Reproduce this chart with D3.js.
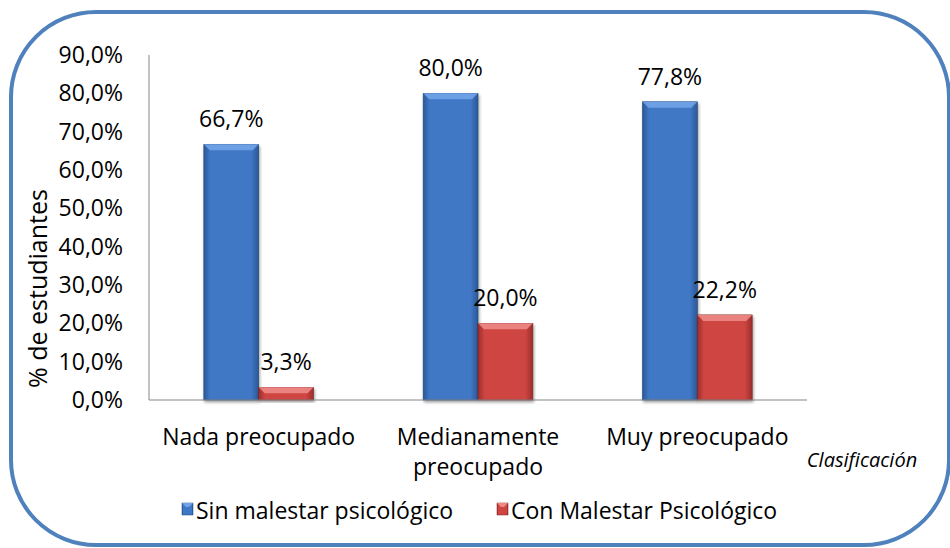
<!DOCTYPE html>
<html>
<head>
<meta charset="utf-8">
<script src="https://cdn.jsdelivr.net/npm/d3@7"></script>
<style>
  body { margin: 0; background: #fff; }
  text { font-family: "Open Sans", "Noto Sans", sans-serif; fill: #000; }
</style>
</head>
<body>
<svg id="chart" width="950" height="548"></svg>
<script>
// categories and series
let categories = ["Nada preocupado", "Medianamente preocupado", "Muy preocupado"];
let catLines = [["Nada preocupado"], ["Medianamente", "preocupado"], ["Muy preocupado"]];
let seriesNames = ["Sin malestar psicológico", "Con Malestar Psicológico"];
let sinMalestar = [66.7, 80.0, 77.8];
let conMalestar = [3.3, 20.0, 22.2];
let yTicks = [0, 10, 20, 30, 40, 50, 60, 70, 80, 90];

let svg = d3.select("#chart");

// rounded frame
svg.append("rect")
  .attr("x", 11).attr("y", 12)
  .attr("width", 938).attr("height", 533)
  .attr("rx", 85).attr("ry", 85)
  .attr("fill", "#fff")
  .attr("stroke", "#4f81bd")
  .attr("stroke-width", 4);

let plot = { left: 149, right: 807, top: 55, bottom: 400 };

let x0 = d3.scaleBand().domain(categories).range([plot.left, plot.right]).paddingInner(0.5).paddingOuter(0.25);
let x1 = d3.scaleBand().domain(seriesNames).range([0, x0.bandwidth()]);
let y = d3.scaleLinear().domain([0, 90]).range([plot.bottom, plot.top]);

let fmt = v => d3.format(".1f")(v).replace(".", ",") + "%";

// gradients
let defs = svg.append("defs");
let palettes = [
  { id: "gBlue", edge: "#2b5897", mid: "#3f78c6", top: "#72a3e8", dark: "#1f4777" },
  { id: "gRed", edge: "#9a2f2c", mid: "#cf4542", top: "#ec8a87", dark: "#7a2220" }
];
palettes.forEach(p => {
  let g = defs.append("linearGradient").attr("id", p.id).attr("x1", 0).attr("x2", 1).attr("y1", 0).attr("y2", 0);
  g.append("stop").attr("offset", "0%").attr("stop-color", p.edge);
  g.append("stop").attr("offset", "12%").attr("stop-color", p.mid);
  g.append("stop").attr("offset", "86%").attr("stop-color", p.mid);
  g.append("stop").attr("offset", "100%").attr("stop-color", p.edge);
});
let shadow = defs.append("filter").attr("id", "shadow").attr("x", "-10%").attr("y", "-10%").attr("width", "130%").attr("height", "130%");
shadow.append("feGaussianBlur").attr("in", "SourceAlpha").attr("stdDeviation", 1.5);
shadow.append("feOffset").attr("dx", 1).attr("dy", 2).attr("result", "b");
shadow.append("feComponentTransfer").append("feFuncA").attr("type", "linear").attr("slope", 0.4);
let merge = shadow.append("feMerge");
merge.append("feMergeNode");
merge.append("feMergeNode").attr("in", "SourceGraphic");

// axes lines
svg.append("line")
  .attr("x1", plot.left).attr("x2", plot.left)
  .attr("y1", plot.top).attr("y2", plot.bottom)
  .attr("stroke", "#868686").attr("stroke-width", 1);

let yAxis = svg.append("g")
  .attr("transform", `translate(${plot.left},0)`)
  .call(d3.axisLeft(y).tickValues(yTicks).tickSize(0).tickPadding(26).tickFormat(fmt));
yAxis.select(".domain").remove();
yAxis.selectAll("text").style("font-size", "23px").style("font-family", "\"Open Sans\", sans-serif").attr("fill", "#000");

// bars
let data = [sinMalestar, conMalestar];
let groups = svg.append("g").selectAll("g")
  .data(categories)
  .join("g")
  .attr("transform", d => `translate(${x0(d)},0)`);

groups.each(function(cat, ci) {
  let g = d3.select(this);
  seriesNames.forEach((s, si) => {
    let v = data[si][ci];
    let bx = x1(s), bw = x1.bandwidth(), by = y(v), bh = y(0) - y(v);
    let p = palettes[si];
    let bar = g.append("g").attr("filter", "url(#shadow)");
    bar.append("rect")
      .attr("x", bx).attr("y", by).attr("width", bw).attr("height", bh)
      .attr("fill", `url(#${p.id})`)
      .attr("stroke", p.dark).attr("stroke-width", 0.6);
    let bev = Math.min(6, bh / 2);
    bar.append("path")
      .attr("d", `M${bx},${by}L${bx + bw},${by}L${bx + bw - bev},${by + bev}L${bx + bev},${by + bev}Z`)
      .attr("fill", p.top).attr("opacity", 0.9);
    g.append("text")
      .attr("x", bx + bw / 2)
      .attr("y", by - 17)
      .attr("text-anchor", "middle")
      .style("font-size", "23px")
      .text(fmt(v));
  });
});

// baseline
svg.append("line")
  .attr("x1", plot.left).attr("x2", plot.right)
  .attr("y1", plot.bottom).attr("y2", plot.bottom)
  .attr("stroke", "#868686").attr("stroke-width", 1.2);

// category labels
categories.forEach((c, i) => {
  let cx = x0(c) + x0.bandwidth() / 2;
  let t = svg.append("text")
    .attr("x", cx)
    .attr("y", 445)
    .attr("text-anchor", "middle")
    .style("font-size", "23px");
  catLines[i].forEach((line, li) => {
    t.append("tspan").attr("x", cx).attr("dy", li === 0 ? 0 : 30).text(line);
  });
});

// axis titles
svg.append("text")
  .attr("transform", `translate(47,${(plot.top + plot.bottom) / 2 + 61}) rotate(-90)`)
  .attr("text-anchor", "middle")
  .style("font-size", "25px")
  .text("% de estudiantes");

svg.append("text")
  .attr("x", 862).attr("y", 467)
  .attr("text-anchor", "middle")
  .style("font-size", "20px")
  .style("font-style", "italic")
  .text("Clasificación");

// legend
let legendX = [182, 497];
seriesNames.forEach((s, i) => {
  let p = palettes[i];
  let lg = svg.append("g").attr("transform", `translate(${legendX[i]},503)`);
  lg.append("rect").attr("width", 11).attr("height", 12).attr("fill", `url(#${p.id})`).attr("stroke", p.dark).attr("stroke-width", 0.5);
  lg.append("path").attr("d", "M0,0L11,0L7,4L4,4Z").attr("fill", p.top);
  lg.append("text").attr("x", 14).attr("y", 16).style("font-size", "23px").text(s);
});
</script>
</body>
</html>
